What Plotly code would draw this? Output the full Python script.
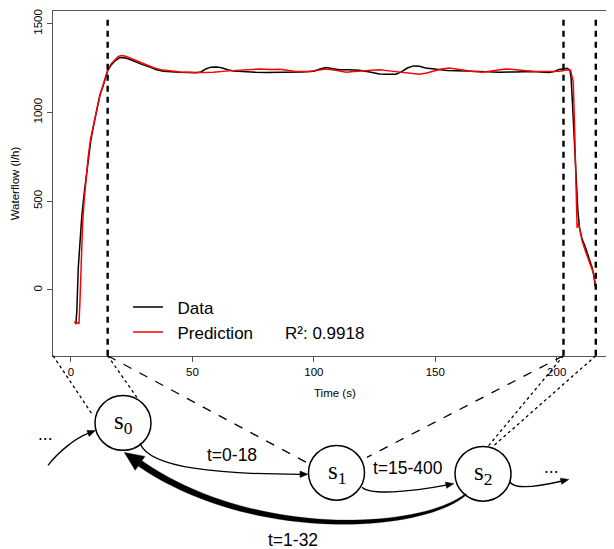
import math
import plotly.graph_objects as go

# page body has an 8px margin: figure is drawn from (8, 8)
OFF = 8
W, H = 614 - OFF, 549 - OFF

# ---------------- data ----------------
data_t = [2.0, 2.4, 3.0, 3.7, 4.4, 5.3, 6.2, 7.1, 8.1, 9.0, 9.9, 10.9, 11.9, 13.0, 14.0, 15.1,
          16.6, 18.1, 20.1, 21.8, 23.5, 26.5, 29.7, 32.5, 35.2, 38.0, 41.0, 44.8, 48.0, 51.6,
          53.5, 55.5, 57.5, 60.0, 62.0, 64.5, 67.0, 72.0, 76.0, 80.4, 84.0, 88.6, 95.0, 100.0,
          102.5, 105.0, 107.5, 110.5, 114.0, 118.7, 123.0, 127.0, 130.5, 133.8, 136.0, 138.5,
          141.0, 143.5, 146.0, 148.8, 155.0, 162.6, 170.0, 176.3, 183.0, 189.8, 196.8, 199.0,
          200.9, 202.3, 204.4, 205.4, 205.9, 206.5, 207.1, 207.6, 208.0, 208.7, 209.4, 210.5,
          211.9, 213.3, 214.6, 215.3, 215.9]
data_v = [-193, -120, 125, 290, 406, 530, 631, 740, 837, 905, 968, 1035, 1099, 1140, 1180, 1235,
          1268, 1290, 1309, 1308, 1302, 1285, 1268, 1256, 1240, 1232, 1228, 1226, 1225, 1223,
          1228, 1245, 1255, 1256, 1252, 1240, 1233, 1228, 1226, 1225, 1225, 1226, 1228, 1232,
          1245, 1253, 1248, 1240, 1240, 1238, 1228, 1217, 1215, 1215, 1228, 1250,
          1262, 1260, 1250, 1245, 1236, 1234, 1228, 1226, 1228, 1230, 1225, 1230,
          1242, 1246, 1249, 1238, 1200, 1050, 876, 700, 575, 450, 350, 285,
          238, 180, 125, 80, 20]

pred_t = [1.2, 2.2, 3.3, 3.7, 4.2, 4.8, 5.5, 6.2, 7.1, 8.0, 9.0, 10.0, 11.0, 12.0, 13.0, 14.0,
          15.1, 16.6, 18.1, 19.5, 20.8, 22.5, 25.0, 28.0, 31.0, 34.0, 37.0, 41.0, 45.0, 52.0,
          58.5, 65.0, 72.0, 77.6, 82.0, 86.0, 92.0, 98.0, 101.5, 105.0, 109.0, 113.3, 116.5,
          120.0, 127.0, 131.0, 135.0, 139.0, 143.4, 146.5, 149.0, 152.5, 155.7, 159.0, 162.0,
          165.5, 169.4, 172.5, 175.0, 179.0, 182.0, 185.0, 190.0, 196.0, 199.0, 201.0, 203.0,
          204.4, 205.7, 206.3, 206.8, 207.3, 207.6, 208.0, 208.4, 208.8, 209.1, 209.8, 210.5,
          211.8, 213.2, 214.3, 215.3, 215.7, 216.0]
pred_v = [-182, -185, -188, -60, 180, 380, 520, 640, 750, 845, 915, 975, 1040, 1100, 1145, 1182,
          1238, 1275, 1298, 1315, 1320, 1316, 1302, 1285, 1268, 1252, 1240, 1232, 1228, 1225,
          1226, 1234, 1240, 1245, 1242, 1243, 1232, 1230, 1238, 1245, 1238, 1226, 1230,
          1234, 1240, 1234, 1228, 1220, 1215, 1222, 1232, 1244, 1250, 1242, 1236,
          1230, 1226, 1232, 1236, 1245, 1242, 1238, 1232, 1230, 1230, 1232, 1236,
          1240, 1238, 1200, 1174, 950, 781, 560, 350, 375, 371, 320, 275,
          220, 163, 120, 88, 51, 30]

series_names = ["Data", "Prediction"]
r2_text = "R²: 0.9918"
x_ticks = [0, 50, 100, 150, 200]
y_ticks = [0, 500, 1000, 1500]
phase_bounds = [15.1, 202.8, 216.1]
state_labels = ["s<sub>0</sub>", "s<sub>1</sub>", "s<sub>2</sub>"]
transition_labels = ["t=0-18", "t=15-400", "t=1-32"]
x_title = "Time (s)"
y_title = "Waterflow (l/h)"

# ---------------- geometry (window pixels) ----------------
PL, PR, PT, PB = 53, 614, 9.3, 355
X_RANGE = [-7.41, 223.6]
Y_RANGE = [-370.4, 1569.6]
FONT = "Liberation Sans, Arial, sans-serif"
SERIF = "Liberation Serif, Times New Roman, serif"


def px(x):
    return (x - OFF) / W


def py(y):
    return 1 - (y - OFF) / H


def t2px(t):
    return PL + (t - X_RANGE[0]) / (X_RANGE[1] - X_RANGE[0]) * (PR - PL)


def P(x, y):
    return f"{px(x):.5f},{py(y):.5f}"


def cubic(p0, p1, p2, p3, s):
    a = (1 - s) ** 3
    b = 3 * (1 - s) ** 2 * s
    c = 3 * (1 - s) * s ** 2
    d = s ** 3
    return (a * p0[0] + b * p1[0] + c * p2[0] + d * p3[0],
            a * p0[1] + b * p1[1] + c * p2[1] + d * p3[1])


def cubic_d(p0, p1, p2, p3, s):
    return (3 * (1 - s) ** 2 * (p1[0] - p0[0]) + 6 * (1 - s) * s * (p2[0] - p1[0]) + 3 * s ** 2 * (p3[0] - p2[0]),
            3 * (1 - s) ** 2 * (p1[1] - p0[1]) + 6 * (1 - s) * s * (p2[1] - p1[1]) + 3 * s ** 2 * (p3[1] - p2[1]))


shapes = []
annotations = []


def head(tip_base, direction, length, half):
    dx, dy = direction
    n = math.hypot(dx, dy)
    ux, uy = dx / n, dy / n
    bx, by = tip_base
    tip = (bx + ux * length, by + uy * length)
    c1 = (bx - uy * half, by + ux * half)
    c2 = (bx + uy * half, by - ux * half)
    return dict(type="path", xref="paper", yref="paper",
                path=f"M {P(*tip)} L {P(*c1)} L {P(*c2)} Z",
                fillcolor="black", line=dict(color="black", width=0.5), layer="above")


def thin_arrow(p0, p1, p2, p3, width=1.3, hl=8, hw=3.2):
    shapes.append(dict(type="path", xref="paper", yref="paper",
                       path=f"M {P(*p0)} C {P(*p1)} {P(*p2)} {P(*p3)}",
                       line=dict(color="black", width=width), layer="above"))
    shapes.append(head(p3, cubic_d(p0, p1, p2, p3, 1.0), hl, hw))


# vertical dashed phase boundaries
for b in phase_bounds:
    shapes.append(dict(type="line", xref="x", yref="paper", x0=b, x1=b,
                       y0=py(PB), y1=py(13), line=dict(color="black", width=2.4, dash="6px,5px"),
                       layer="above"))

# connector lines from plot to state diagram
b0, b1, b2 = [t2px(b) for b in phase_bounds]
conn = [
    ((PL, PB), (93, 415), "dot"),
    ((b0, PB), (137, 397), "dot"),
    ((b0, PB), (308, 463), "dash"),
    ((b1, PB), (367, 457), "dash"),
    ((b1, PB), (488, 446), "dot"),
    ((b2, PB), (493, 446), "dot"),
]
for (xa, ya), (xb, yb), d in conn:
    shapes.append(dict(type="line", xref="paper", yref="paper",
                       x0=px(xa), y0=py(ya), x1=px(xb), y1=py(yb),
                       line=dict(color="black", width=1.3, dash=d), layer="above"))

# state circles
centers = [(123, 422.5), (336.5, 472.5), (483, 473.5)]
R = 28
for (cx, cy), lab in zip(centers, state_labels):
    shapes.append(dict(type="circle", xref="paper", yref="paper",
                       x0=px(cx - R), x1=px(cx + R), y0=py(cy + 27.5), y1=py(cy - 27.5),
                       line=dict(color="black", width=1.5), fillcolor="white", layer="above"))
    annotations.append(dict(x=px(cx), y=py(cy), xref="paper", yref="paper", text=lab,
                            showarrow=False, xanchor="center", yanchor="middle",
                            font=dict(family=SERIF, size=25, color="black")))

# thin arrows
thin_arrow((48, 465), (58, 452), (75, 438), (88, 433))
thin_arrow((140, 443), (150, 468), (220, 474), (300, 474))
thin_arrow((362, 487), (370, 495), (410, 492), (446, 485))
thin_arrow((510, 482), (516, 490), (540, 486), (561, 481))

# thick return arrow s2 -> s0
Q0, Q1, Q2, Q3 = (466, 494), (420, 532), (250, 540), (140, 463)
left, right = [], []
N = 40
for i in range(N + 1):
    s = i / N
    x, y = cubic(Q0, Q1, Q2, Q3, s)
    dx, dy = cubic_d(Q0, Q1, Q2, Q3, s)
    n = math.hypot(dx, dy)
    nx, ny = -dy / n, dx / n
    w = (1.6 + 5.0 * s ** 0.8) / 2
    left.append((x + nx * w, y + ny * w))
    right.append((x - nx * w, y - ny * w))
pts = left + right[::-1]
path = "M " + " L ".join(P(*p) for p in pts) + " Z"
shapes.append(dict(type="path", xref="paper", yref="paper", path=path,
                   fillcolor="black", line=dict(color="black", width=0.3), layer="above"))
shapes.append(head(Q3, cubic_d(Q0, Q1, Q2, Q3, 1.0), 19, 8.5))

# diagram texts
txt = [
    (transition_labels[0], 232, 455),
    (transition_labels[1], 408, 468),
    (transition_labels[2], 293, 540),
    ("...", 45, 434),
    ("...", 551, 467),
]
for t, x, y in txt:
    annotations.append(dict(x=px(x), y=py(y), xref="paper", yref="paper", text=t,
                            showarrow=False, xanchor="center", yanchor="middle",
                            font=dict(family=FONT, size=17.5, color="black")))

# axis titles and R2
annotations.append(dict(x=px(335), y=py(392), xref="paper", yref="paper", text=x_title,
                        showarrow=False, xanchor="center", yanchor="middle",
                        font=dict(family=FONT, size=11.5, color="black")))
annotations.append(dict(x=px(15), y=py(182), xref="paper", yref="paper", text=y_title,
                        showarrow=False, xanchor="center", yanchor="middle", textangle=-90,
                        font=dict(family=FONT, size=11.5, color="black")))
annotations.append(dict(x=px(283), y=py(333), xref="paper", yref="paper", text=r2_text,
                        showarrow=False, xanchor="left", yanchor="middle",
                        font=dict(family=FONT, size=17, color="black")))

fig = go.Figure()
fig.add_trace(go.Scatter(x=data_t, y=data_v, mode="lines", name="\u00a0\u00a0" + series_names[0],
                         line=dict(color="black", width=1.5)))
fig.add_trace(go.Scatter(x=pred_t, y=pred_v, mode="lines", name="\u00a0\u00a0" + series_names[1],
                         line=dict(color="#ff0000", width=1.5)))

fig.update_layout(
    width=W, height=H,
    margin=dict(l=0, r=0, t=0, b=0),
    paper_bgcolor="white", plot_bgcolor="rgba(0,0,0,0)",
    font=dict(family=FONT, color="black"),
    showlegend=True,
    legend=dict(x=px(128), y=py(288.5), xanchor="left", yanchor="top",
                bgcolor="rgba(0,0,0,0)", font=dict(family=FONT, size=17, color="black")),
    xaxis=dict(domain=[px(PL), 1], range=[X_RANGE[0], X_RANGE[0] + (X_RANGE[1] - X_RANGE[0]) * (W + OFF - PL) / (PR - PL)],
               tickvals=x_ticks, ticklabeloverflow="allow",
               showgrid=False, zeroline=False, showline=True, linecolor="#555", linewidth=1,
               mirror=True, ticks="outside", ticklen=5, tickcolor="#555",
               tickfont=dict(family=FONT, size=11.5, color="black")),
    yaxis=dict(domain=[py(PB), py(PT)], range=Y_RANGE, tickvals=y_ticks, ticklabeloverflow="allow",
               showgrid=False, zeroline=False, showline=True, linecolor="#555", linewidth=1,
               ticks="outside", ticklen=5, tickcolor="#555", tickangle=-90,
               tickfont=dict(family=FONT, size=11.5, color="black")),
    shapes=shapes,
    annotations=annotations,
)

fig.write_html("out.html")
